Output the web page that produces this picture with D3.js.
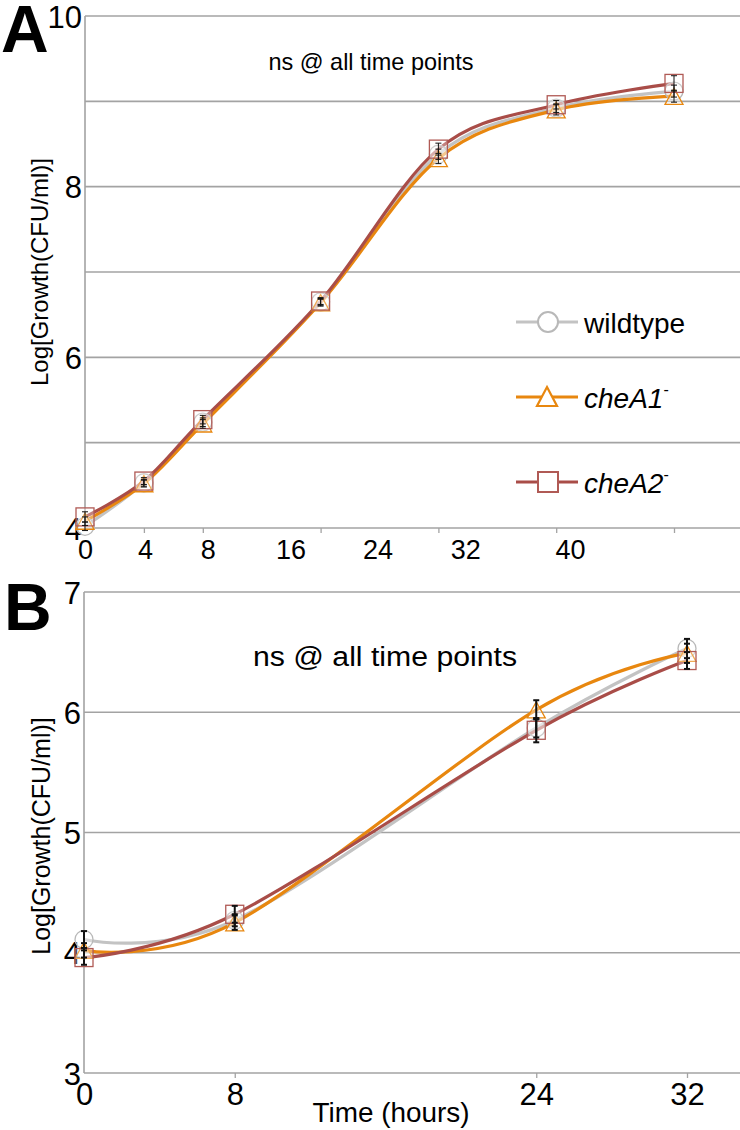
<!DOCTYPE html>
<html><head><meta charset="utf-8">
<script src="https://cdn.jsdelivr.net/npm/d3@7"></script>
<style>body{margin:0;background:#fff}svg{display:block;font-family:"Liberation Sans",Arial,sans-serif}</style>
</head><body><svg id="c" width="740" height="1130"></svg>
<script>
// ---------- DATA ----------
const seriesNames = ["wildtype", "cheA1", "cheA2"];
const timesA = [0, 4, 8, 16, 24, 32, 40];
const wildtypeA = [4.02, 4.53, 5.24, 6.65, 8.38, 8.92, 9.12];
const cheA1A   = [4.08, 4.52, 5.22, 6.64, 8.33, 8.90, 9.06];
const cheA2A   = [4.13, 4.55, 5.27, 6.66, 8.44, 8.96, 9.21];
const wildtypeAErr = [0.05, 0.04, 0.05, 0.04, 0.06, 0.05, 0.07];
const cheA1AErr   = [0.05, 0.04, 0.05, 0.04, 0.06, 0.06, 0.07];
const cheA2AErr   = [0.06, 0.04, 0.05, 0.04, 0.07, 0.05, 0.09];
const yTicksA = [4, 6, 8, 10];
const yGridA = [4, 5, 6, 7, 8, 9, 10];

const timesB = [0, 8, 24, 32];
const wildtypeB = [4.11, 4.27, 5.87, 6.53];
const cheA1B   = [4.02, 4.25, 6.02, 6.49];
const cheA2B   = [3.96, 4.32, 5.85, 6.43];
const wildtypeBErr = [0.07, 0.05, 0.08, 0.08];
const cheA1BErr   = [0.06, 0.06, 0.08, 0.08];
const cheA2BErr   = [0.06, 0.07, 0.10, 0.07];
const yTicksB = [3, 4, 5, 6, 7];
const yGridB = [3, 4, 5, 6, 7];

const annotation = "ns @ all time points";
const yTitle = "Log[Growth(CFU/ml)]";
const xTitle = "Time (hours)";

// ---------- STYLE ----------
const colors = {wildtype: "#c3c3c3", cheA1: "#e8870f", cheA2: "#a94d48"};
const markerStroke = {wildtype: "#b8b8b8", cheA1: "#e8870f", cheA2: "#b05a55"};
const gridColor = "#a3a3a3";

const svg = d3.select("#c");

function marker(g, name, x, y, s) {
  const col = markerStroke[name];
  if (name === "wildtype") {
    g.append("circle").attr("cx", x).attr("cy", y).attr("r", s/2)
      .attr("fill", "rgba(255,255,255,0.35)").attr("stroke", col).attr("stroke-width", 1.3);
  } else if (name === "cheA1") {
    const h = s * 0.9;
    g.append("path").attr("d", `M${x},${y-h/2} L${x+s/2},${y+h/2} L${x-s/2},${y+h/2} Z`)
      .attr("fill", "rgba(255,255,255,0.35)").attr("stroke", col).attr("stroke-width", 1.3);
  } else {
    g.append("rect").attr("x", x - s/2).attr("y", y - s/2).attr("width", s).attr("height", s)
      .attr("fill", "rgba(255,255,255,0.3)").attr("stroke", col).attr("stroke-width", 1.3);
  }
}

function panel(cfg) {
  const g = svg.append("g");
  const x = d3.scaleLinear().domain(cfg.xDomain).range(cfg.xRange);
  const y = d3.scaleLinear().domain(cfg.yDomain).range(cfg.yRange);
  g.selectAll(".grid").data(cfg.grid).join("line")
    .attr("x1", cfg.xRange[0]).attr("x2", 740)
    .attr("y1", d => y(d)).attr("y2", d => y(d))
    .attr("stroke", gridColor).attr("stroke-width", 1.6);
  g.append("line").attr("x1", cfg.xRange[0]).attr("x2", cfg.xRange[0])
    .attr("y1", y(cfg.yDomain[1])).attr("y2", y(cfg.yDomain[0]))
    .attr("stroke", gridColor).attr("stroke-width", 1.6);
  const ya = g.append("g").attr("transform", `translate(${cfg.xRange[0]},0)`)
    .call(d3.axisLeft(y).tickValues(cfg.yTicks).tickSize(0).tickPadding(3).tickFormat(d3.format("d")));
  ya.select(".domain").remove();
  ya.selectAll("text").attr("font-size", cfg.yTickFont).attr("fill", "#000")
    .attr("font-family", "Liberation Sans, Arial, sans-serif").attr("dy", "0.36em");
  const xa = g.append("g").attr("transform", `translate(0,${y(cfg.yDomain[0])})`)
    .call(d3.axisBottom(x).tickValues(cfg.times).tickSize(5).tickPadding(cfg.xPad).tickFormat(d3.format("d")));
  xa.select(".domain").remove();
  xa.selectAll(".tick line").attr("stroke", gridColor).attr("stroke-width", 1.3)
    .attr("opacity", (d, i) => i === 0 ? 0 : 1);
  xa.selectAll("text").attr("font-size", cfg.xTickFont).attr("fill", "#000")
    .attr("font-family", "Liberation Sans, Arial, sans-serif")
    .attr("dx", (d, i) => cfg.labelNudge[i]);
  g.append("text").attr("x", cfg.annX).attr("y", cfg.annY).attr("text-anchor", "middle")
    .attr("font-size", cfg.annFont).attr("textLength", cfg.annLen).attr("lengthAdjust", "spacingAndGlyphs")
    .text(annotation);
  g.append("text").attr("transform", `translate(${cfg.yTitleX},${cfg.yTitleY}) rotate(-90)`)
    .attr("text-anchor", "middle").attr("font-size", cfg.yTitleFont).text(yTitle);
  g.append("text").attr("x", cfg.letterX).attr("y", cfg.letterY).attr("font-size", 66)
    .attr("font-weight", "bold").attr("font-family", "Liberation Sans, Arial, sans-serif").text(cfg.letter);

  const line = d3.line().curve(d3.curveCatmullRom.alpha(0)).x(d => x(d[0])).y(d => y(d[1]));
  cfg.series.forEach(s => {
    const pts = cfg.times.map((t, i) => [t, s.values[i]]);
    g.append("path").datum(pts).attr("d", line).attr("fill", "none")
      .attr("stroke", colors[s.name]).attr("stroke-width", 3.2);
  });
  cfg.series.forEach(s => {
    cfg.times.forEach((t, i) => marker(g, s.name, x(t), y(s.values[i]), cfg.markerSize));
  });
  cfg.series.forEach(s => {
    cfg.times.forEach((t, i) => {
      const cx = x(t), lo = y(s.values[i] - s.err[i]), hi = y(s.values[i] + s.err[i]);
      g.append("line").attr("x1", cx).attr("x2", cx).attr("y1", lo).attr("y2", hi)
        .attr("stroke", "#111").attr("stroke-width", cfg.errW);
      [lo, hi].forEach(v => g.append("line").attr("x1", cx - 3).attr("x2", cx + 3)
        .attr("y1", v).attr("y2", v).attr("stroke", "#111").attr("stroke-width", cfg.errW));
    });
  });
  return {g, x, y};
}

panel({
  letter: "A", letterX: 1, letterY: 52,
  times: timesA, xDomain: [0, 40], xRange: [85, 674], yDomain: [4, 10], yRange: [528, 16],
  grid: yGridA, yTicks: yTicksA, yTickFont: 31, xTickFont: 27, xPad: 7,
  labelNudge: [0, 1, 5, -30, -61, -91, -104],
  annX: 371, annY: 70, annFont: 24, annLen: 205,
  yTitleX: 48, yTitleY: 272, yTitleFont: 24,
  markerSize: 18, errW: 1,
  series: [
    {name: "wildtype", values: wildtypeA, err: wildtypeAErr},
    {name: "cheA1", values: cheA1A, err: cheA1AErr},
    {name: "cheA2", values: cheA2A, err: cheA2AErr}
  ]
});

panel({
  letter: "B", letterX: 4, letterY: 630,
  times: timesB, xDomain: [0, 32], xRange: [84, 687], yDomain: [3, 7], yRange: [1073, 592],
  grid: yGridB, yTicks: yTicksB, yTickFont: 31, xTickFont: 31, xPad: 5,
  labelNudge: [0, 0, 0, 0],
  annX: 385, annY: 666, annFont: 27, annLen: 264,
  yTitleX: 50, yTitleY: 836, yTitleFont: 25,
  markerSize: 18, errW: 2,
  series: [
    {name: "wildtype", values: wildtypeB, err: wildtypeBErr},
    {name: "cheA1", values: cheA1B, err: cheA1BErr},
    {name: "cheA2", values: cheA2B, err: cheA2BErr}
  ]
});

svg.append("text").attr("x", 391).attr("y", 1122).attr("text-anchor", "middle")
  .attr("font-size", 28).attr("textLength", 157).attr("lengthAdjust", "spacingAndGlyphs").text(xTitle);

// legend (panel A)
const legY = [322, 397, 482];
const leg = svg.append("g");
seriesNames.forEach((n, i) => {
  leg.append("line").attr("x1", 516).attr("x2", 578).attr("y1", legY[i]).attr("y2", legY[i])
    .attr("stroke", colors[n]).attr("stroke-width", 3);
  const col = markerStroke[n];
  if (n === "wildtype") {
    leg.append("circle").attr("cx", 548).attr("cy", legY[i]).attr("r", 10)
      .attr("fill", "#fff").attr("stroke", col).attr("stroke-width", 2);
  } else if (n === "cheA1") {
    leg.append("path").attr("d", `M547,${legY[i]-10} L557,${legY[i]+9} L537,${legY[i]+9} Z`)
      .attr("fill", "#fff").attr("stroke", col).attr("stroke-width", 2.2);
  } else {
    leg.append("rect").attr("x", 538).attr("y", legY[i] - 10).attr("width", 20).attr("height", 20)
      .attr("fill", "#fff").attr("stroke", col).attr("stroke-width", 2);
  }
  const t = leg.append("text").attr("x", 584).attr("y", legY[i] + 11).attr("font-size", 28);
  if (n === "wildtype") t.text(n);
  else {
    t.append("tspan").attr("font-style", "italic").text(n);
    t.append("tspan").attr("font-size", 16).attr("dy", -13).text("-");
  }
});
</script></body></html>
